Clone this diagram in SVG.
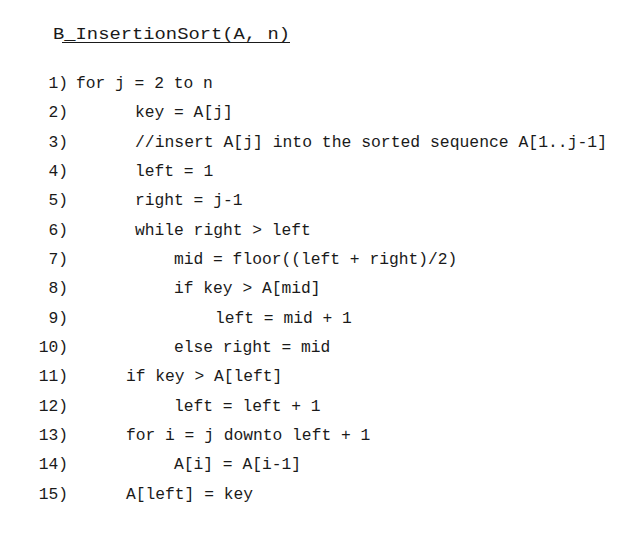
<svg xmlns="http://www.w3.org/2000/svg" width="637" height="546" viewBox="0 0 637 546">
<style>
text{font-family:"Liberation Mono","Noto Sans CJK SC",monospace;font-size:16.3px;fill:#1a1a1a;white-space:pre}
.n{text-anchor:end}
</style>
<rect width="637" height="546" fill="#fff"/>
<g id="title">
<text x="53" y="39" textLength="237" lengthAdjust="spacingAndGlyphs">B_InsertionSort(A, n)</text>
<line x1="62" y1="42.5" x2="290" y2="42.5" stroke="#1a1a1a" stroke-width="1"/>
</g>
<g id="numbers">
<text class="n" x="68" y="88">1)</text>
<text class="n" x="68" y="117">2)</text>
<text class="n" x="68" y="147">3)</text>
<text class="n" x="68" y="176">4)</text>
<text class="n" x="68" y="205">5)</text>
<text class="n" x="68" y="235">6)</text>
<text class="n" x="68" y="264">7)</text>
<text class="n" x="68" y="293">8)</text>
<text class="n" x="68" y="323">9)</text>
<text class="n" x="68" y="352">10)</text>
<text class="n" x="68" y="381">11)</text>
<text class="n" x="68" y="411">12)</text>
<text class="n" x="68" y="440">13)</text>
<text class="n" x="68" y="469">14)</text>
<text class="n" x="68" y="499">15)</text>
</g>
<g id="code">
<text x="76" y="88">for j = 2 to n</text>
<text x="135" y="117">key = A[j]</text>
<text x="135" y="147" textLength="472" lengthAdjust="spacingAndGlyphs">//insert A[j] into the sorted sequence A[1..j-1]</text>
<text x="135" y="176">left = 1</text>
<text x="135" y="205">right = j-1</text>
<text x="135" y="235">while right &gt; left</text>
<text x="174" y="264">mid = floor((left + right)/2)</text>
<text x="174" y="293">if key &gt; A[mid]</text>
<text x="215" y="323">left = mid + 1</text>
<text x="174" y="352">else right = mid</text>
<text x="126" y="381">if key &gt; A[left]</text>
<text x="174" y="411">left = left + 1</text>
<text x="126" y="440">for i = j downto left + 1</text>
<text x="174" y="469">A[i] = A[i-1]</text>
<text x="126" y="499">A[left] = key</text>
</g>
</svg>
